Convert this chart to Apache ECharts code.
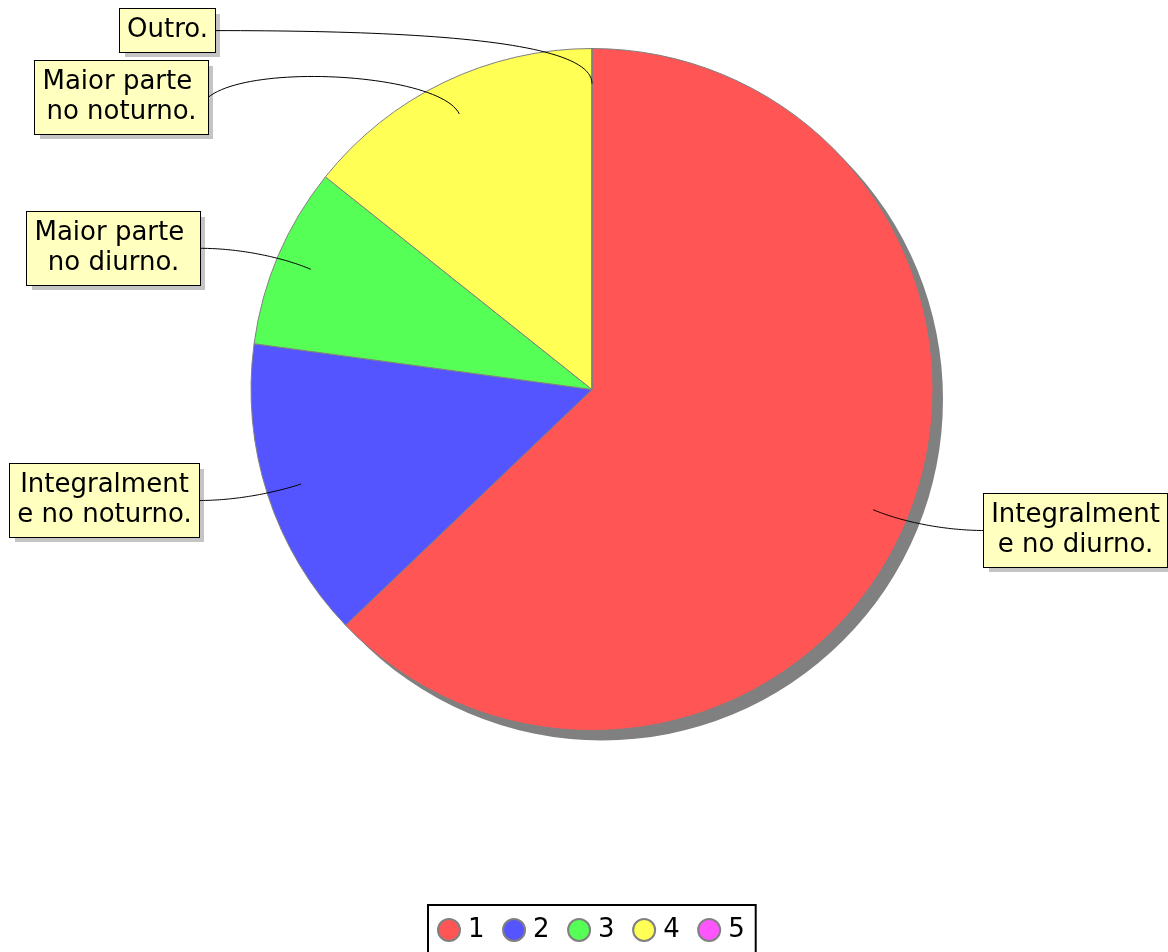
<!DOCTYPE html>
<html>
<head>
<meta charset="utf-8">
<script src="https://cdn.jsdelivr.net/npm/echarts@6/dist/echarts.min.js"></script>
<style>
  html, body { margin: 0; padding: 0; background: #ffffff; }
  #chart { width: 1168px; height: 952px; }
</style>
</head>
<body>
<div id="chart"></div>
<script>
// ---- data ----
const legendNames = ['1', '2', '3', '4', '5'];
const categories = [
  'Integralment\ne no diurno.',
  'Integralment\ne no noturno.',
  'Maior parte \nno diurno.',
  'Maior parte \nno noturno.',
  'Outro.'
];
const counts = [22, 5, 3, 5, 0];

// ---- style / layout ----
const sliceColors = ['#ff5555', '#5555ff', '#55ff55', '#ffff55', '#ff55ff'];
const CX = 592, CY = 389.5, R = 341;
const INNER = 0.897;          // where leader lines start (fraction of radius)
const SHADOW_OFFSET = 10;
const BOX_SHADOW = 5;
const FONT = 'DejaVu Sans';
const FONT_SIZE = 26, LINE_H = 30;
const PAD_T = 6, PAD_B = 7, PAD_H = 7;
// label box anchor (point where the leader line meets the box), box side, curve controls
const labelSpec = [
  { ax: 984,   ay: 530.5, side: 'right', d1: 30, c2: [-40, 0] },
  { ax: 199.3, ay: 500.5, side: 'left',  d1: 30, c2: [36, 0] },
  { ax: 200,   ay: 248.3, side: 'left',  d1: 30, c2: [40, 0] },
  { ax: 208.3, ay: 97.5,  side: 'left',  d1: 45, c2: [42, -35] },
  { ax: 215.3, ay: 30.6,  side: 'left',  d1: 43, c2: [205, 0] }
];

const measureCtx = document.createElement('canvas').getContext('2d');
measureCtx.font = FONT_SIZE + 'px "' + FONT + '"';
function textBox(text) {
  const lines = text.split('\n');
  let w = 0;
  lines.forEach(l => { w = Math.max(w, measureCtx.measureText(l).width); });
  return { cw: Math.ceil(w), bw: Math.ceil(w) + 2 * PAD_H, bh: lines.length * LINE_H + PAD_T + PAD_B };
}

function bezier(p0, p1, p2, p3, n) {
  const pts = [];
  for (let i = 0; i <= n; i++) {
    const t = i / n, m = 1 - t;
    const a = m * m * m, b = 3 * m * m * t, c = 3 * m * t * t, d = t * t * t;
    pts.push([
      a * p0[0] + b * p1[0] + c * p2[0] + d * p3[0],
      a * p0[1] + b * p1[1] + c * p2[1] + d * p3[1]
    ]);
  }
  return pts;
}

function makeLayout(offset, withLine) {
  return function (p) {
    const s = labelSpec[p.dataIndex];
    const tb = textBox(categories[p.dataIndex]);
    const left = s.side === 'left' ? Math.round(s.ax - tb.bw) : Math.round(s.ax);
    const top = Math.round(s.ay - tb.bh / 2);
    const res = {
      x: left + tb.bw / 2 + offset,
      y: top + tb.bh / 2 + offset,
      width: tb.cw,
      align: 'center',
      verticalAlign: 'middle'
    };
    if (withLine) {
      const edge = (p.labelLinePoints && p.labelLinePoints[0]) || [CX, CY - R];
      const vx = edge[0] - CX, vy = edge[1] - CY;
      const len = Math.hypot(vx, vy) || 1;
      const ux = vx / len, uy = vy / len;
      const p0 = [CX + vx * INNER, CY + vy * INNER];
      const p1 = [p0[0] + ux * s.d1, p0[1] + uy * s.d1];
      const p3 = [s.side === 'left' ? left + tb.bw : left, s.ay];
      const p2 = [p3[0] + s.c2[0], p3[1] + s.c2[1]];
      res.labelLinePoints = bezier(p0, p1, p2, p3, 48);
    }
    return res;
  };
}

const chart = echarts.init(document.getElementById('chart'), null, { renderer: 'canvas' });

const mainData = counts.map((v, i) => ({ name: legendNames[i], value: v }));

const baseLabel = {
  show: true,
  position: 'outside',
  overflow: 'none',
  formatter: (p) => categories[p.dataIndex],
  fontFamily: FONT,
  fontSize: FONT_SIZE,
  lineHeight: LINE_H,
  align: 'center',
  padding: [PAD_T, PAD_H, PAD_B, PAD_H]
};

const option = {
  backgroundColor: '#ffffff',
  animation: false,
  color: sliceColors,
  legend: {
    data: legendNames,
    left: 428,
    top: 905,
    orient: 'horizontal',
    icon: 'circle',
    itemWidth: 22,
    itemHeight: 22,
    itemGap: 17.5,
    padding: [12, 11, 12, 9],
    borderColor: '#000000',
    borderWidth: 2,
    borderRadius: 0,
    backgroundColor: '#ffffff',
    selectedMode: false,
    textStyle: { fontSize: 26, color: '#000000', fontFamily: FONT, padding: [0, 0, 0, 3] }
  },
  series: [
    {
      type: 'pie',
      name: 'main',
      z: 3,
      center: [CX, CY],
      radius: R,
      startAngle: 90,
      clockwise: true,
      emphasis: { disabled: true },
      itemStyle: { borderColor: '#808080', borderWidth: 1 },
      label: { show: false },
      labelLine: { show: false },
      data: mainData
    },
    {
      // drop shadows of the label boxes
      type: 'pie',
      name: 'labelShadows',
      z: 4,
      silent: true,
      center: [CX, CY],
      radius: R,
      startAngle: 90,
      clockwise: true,
      avoidLabelOverlap: false,
      minShowLabelAngle: 0,
      emphasis: { disabled: true },
      itemStyle: { color: 'rgba(0,0,0,0)', borderWidth: 0 },
      data: counts.slice(),
      label: Object.assign({}, baseLabel, {
        color: 'rgba(0,0,0,0)',
        backgroundColor: '#c4c4c4'
      }),
      labelLine: { show: false },
      labelLayout: makeLayout(BOX_SHADOW, false)
    },
    {
      type: 'pie',
      name: 'labels',
      z: 5,
      silent: true,
      center: [CX, CY],
      radius: R,
      startAngle: 90,
      clockwise: true,
      avoidLabelOverlap: false,
      minShowLabelAngle: 0,
      emphasis: { disabled: true },
      itemStyle: { color: 'rgba(0,0,0,0)', borderWidth: 0 },
      data: counts.slice(),
      label: Object.assign({}, baseLabel, {
        color: '#000000',
        backgroundColor: '#ffffc0',
        borderColor: '#000000',
        borderWidth: 1
      }),
      labelLine: {
        show: true,
        smooth: false,
        length: 10,
        length2: 10,
        lineStyle: { color: '#000000', width: 1 }
      },
      labelLayout: makeLayout(0, true)
    },
    {
      type: 'pie',
      name: 'shadow',
      z: 1,
      silent: true,
      center: [CX + SHADOW_OFFSET, CY + SHADOW_OFFSET],
      radius: R,
      startAngle: 90,
      clockwise: true,
      emphasis: { disabled: true },
      itemStyle: { color: '#808080', borderWidth: 0 },
      label: { show: false },
      labelLine: { show: false },
      data: counts.slice()
    }
  ]
};

chart.setOption(option);
</script>
</body>
</html>
